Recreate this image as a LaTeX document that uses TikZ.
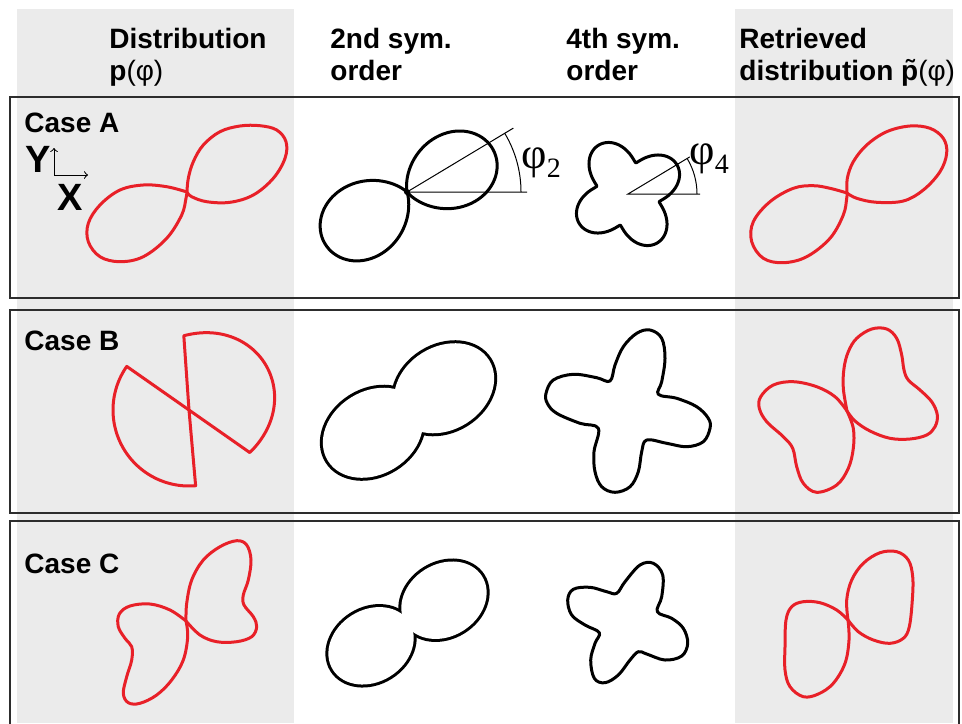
\documentclass[tikz,border=0pt]{standalone}
\usepackage{fontspec}
\setmainfont{Liberation Sans}
\newfontfamily\grkfont{Liberation Serif}
\definecolor{pred}{RGB}{232,32,40}
\definecolor{colgrey}{RGB}{235,235,235}
\definecolor{boxgrey}{RGB}{45,45,45}
\newcommand{\phisub}[1]{\raisebox{-4.5pt}{\fontsize{14}{14}\selectfont #1}}
\tikzset{
  redcurve/.style={draw=pred, line width=1.5pt, line join=round},
  blackcurve/.style={draw=black, line width=1.5pt, line join=round},
  lobeedge/.style={draw=black, line width=3pt},
  angleline/.style={draw=black, line width=0.5pt},
  casebox/.style={draw=boxgrey, line width=1pt},
  head/.style={font=\bfseries\fontsize{14}{16}\selectfont, anchor=base west, inner sep=0pt},
  axlab/.style={font=\bfseries\fontsize{19}{19}\selectfont, anchor=base west, inner sep=0pt},
  philab/.style={font=\grkfont\fontsize{22}{22}\selectfont, anchor=base west, inner sep=0pt}
}

\begin{document}
\begin{tikzpicture}[x=0.5pt, y=-0.5pt]
    \useasboundingbox (0,0) rectangle (962,723);
    \foreach \xa/\xb in {17/294, 735/953} {
      \fill[colgrey] (\xa,9) rectangle (\xb,723);
    }
    \foreach \ya/\yb in {97/298, 310/513, 521/780} {
      \draw[casebox] (10,\ya) rectangle (959,\yb);
    }

    \node[head] (headDist) at (109,48) {Distribution};
    \node[head] (headDistB) at (109,80) {p{\mdseries(φ)}};
    \node[head] (headSec) at (330,48) {2nd sym.};
    \node[head] (headSecB) at (330,80) {order};
    \node[head] (headFour) at (566,48) {4th sym.};
    \node[head] (headFourB) at (566,80) {order};
    \node[head] (headRet) at (739,48) {Retrieved};
    \node[head] (headRetB) at (739,80) {distribution p̃{\mdseries(φ)}};

    \node[head] (caseA) at (24,132) {Case A};
    \node[head] (caseB) at (24,350) {Case B};
    \node[head] (caseC) at (24,573) {Case C};

    \node[axlab] (ylab) at (25,172) {Y};
    \node[axlab] (xlab) at (57,210) {X};
    \coordinate (axo) at (54,175);
    \coordinate (axy) at (54,148);
    \coordinate (axx) at (88,175);
    \draw[angleline, ->] (axo) -- (axy);
    \draw[angleline, ->] (axo) -- (axx);

    % case A
    \draw[redcurve] plot[smooth, tension=0.6] coordinates {
      (187,192) (188.3,178.3) (193.3,161.7) (203.3,145) (220,131.7) (240,126) (260,125.7) (276.7,130)
      (286,141.7) (285,158.3) (273.3,178.3) (253.3,195) (230,202.3) (206.7,201.7) (191.7,196.7) (187,192)} -- cycle;
    \draw[redcurve] plot[smooth, tension=0.6] coordinates {
      (187,192) (166.7,186.7) (143.3,185) (120,190) (100,205) (88.3,223.3) (88.3,241.7) (100,256.7)
      (120,261.7) (143.3,256.7) (166.7,238.3) (181.7,215) (186,198.3) (187,192)} -- cycle;
    \begin{scope}[shift={(407,192)}, yscale=-1]
      \draw[blackcurve] (0,0) -- plot[domain=-50:100, samples=76] (\x:{96*max(cos(1.2*(\x-25)),0.001)^1.3}) -- cycle;
      \draw[blackcurve] (0,0) -- plot[domain=138:288, samples=76] (\x:{97*max(cos(1.2*(\x-213)),0.001)^1.3}) -- cycle;
      \fill (0,0) circle (3);
      \coordinate (ctwo) at (0,0);
      \coordinate (ctwoh) at (0:120);
      \coordinate (ctwor) at (31:124);
      \draw[angleline] (ctwoh) -- (ctwo) -- (ctwor);
      \draw[angleline] (0:114) arc[start angle=0, end angle=31, radius=114];
    \end{scope}
    \node[philab] (phitwo) at (521,168) {φ\phisub{2}};
    \begin{scope}[shift={(628,194)}, yscale=-1]
      \draw[blackcurve] plot[domain=0:360, samples=241] (\x:{32+25*max(0.5+0.5*cos(4*(\x-31)),0.0001)^0.6}) -- cycle;
      \coordinate (cfour) at (0,0);
      \coordinate (cfourh) at (0:72);
      \coordinate (cfourr) at (31:72);
      \draw[angleline] (cfourh) -- (cfour) -- (cfourr);
      \draw[angleline] (0:69) arc[start angle=0, end angle=31, radius=69];
    \end{scope}
    \node[philab] (phifour) at (689,164) {φ\phisub{4}};
    \draw[redcurve] plot[smooth, tension=0.6] coordinates {
      (847,193) (847.3,178.3) (853.3,161.7) (866.7,145) (886.7,131.7) (910,126) (930,128.3) (943.3,138.3)
      (946.7,153.3) (940,171.7) (923.3,190) (903.3,201) (876.7,202.3) (856.7,198.3) (847,193)} -- cycle;
    \draw[redcurve] plot[smooth, tension=0.6] coordinates {
      (847,193) (830,188.3) (813.3,185.7) (793.3,188.3) (770,201.7) (753.3,221.7) (751.7,241.7) (763.3,258.3)
      (783.3,262.7) (806.7,256.7) (830,238.3) (843.3,215) (846.7,198.3) (847,193)} -- cycle;

    % case B
    \begin{scope}[shift={(189,410)}, yscale=-1]
      \draw[redcurve] (0,0) -- plot[domain=-35:94, samples=66] (\x:{80+9*cos(2*(\x-30))}) -- cycle;
      \draw[redcurve] (0,0) -- plot[domain=145:275, samples=66] (\x:76) -- cycle;
    \end{scope}
    \begin{scope}[shift={(408.5,410.5)}, rotate=32]
      \foreach \s in {-42,42} {
        \draw[lobeedge] (\s,0) ellipse (53 and 41.5);
      }
      \foreach \s in {-42,42} {
        \fill[white] (\s,0) ellipse (53 and 41.5);
      }
    \end{scope}
    \draw[blackcurve] plot[smooth cycle, tension=0.6] coordinates {
      (546,393.3) (553.3,380) (573.3,374.3) (596.7,377.7) (610,381)
      (615,365) (623.3,346.7) (636.7,333.3) (650,330) (661.7,338.3) (665,358.3) (661.7,381.7) (658.3,394.3)
      (676.7,398.3) (696.7,406.7) (708.3,418.3) (710,428.3) (703.3,441.7) (686.7,446.7) (666.7,443.3) (646.7,440)
      (641.7,451.7) (638.3,471.7) (630,486.7) (615,492.3) (601.7,486.7) (595,471.7) (594,451.7) (598.3,428.3)
      (580,423.3) (556.7,413.3) (547.3,403.3)};
    \draw[redcurve] plot[smooth, tension=0.6] coordinates {
      (847,411) (843.3,388.3) (844,368.3) (848.3,351.7) (856.7,338.3) (871.7,329) (886.7,329) (896.7,338.3)
      (901.7,355) (904,370) (908.3,380) (920,390) (931.7,401.7) (937.3,415) (935,426.7) (926.7,435)
      (910,439) (890,438.3) (870,431) (855,421) (847,411)} -- cycle;
    \draw[redcurve] plot[smooth, tension=0.6] coordinates {
      (847,411) (835,396.7) (816.7,386.7) (793.3,381.7) (773.3,385) (760.7,396.7) (759.3,408.3) (766.7,421.7)
      (783.3,436.7) (792.7,448.3) (796.7,466.7) (803.3,483.3) (816.7,492.3) (836.7,485) (848.3,468.3)
      (853.3,448.3) (853.3,428.3) (847,411)} -- cycle;

    % case C
    \draw[redcurve] plot[smooth, tension=0.6] coordinates {
      (186,621) (186.7,603.3) (191.7,580) (203.3,560) (220,546.7) (236.7,540.7) (246.7,545) (251,560)
      (248.3,580) (243.3,595) (244,605) (253.3,616.7) (256.7,626.7) (251.7,636.7) (236.7,641.7)
      (216.7,641.7) (200,635) (186,621)} -- cycle;
    \draw[redcurve] plot[smooth, tension=0.6] coordinates {
      (186,621) (170,610) (150,604) (130,606) (119.3,614) (118.3,626.7) (125,638.3) (131.7,646.7)
      (131.7,660) (126.7,676.7) (123.3,693.3) (128.3,702.7) (140,703.3) (156.7,695) (171.7,680)
      (183.3,660) (187.7,636.7) (186,621)} -- cycle;
    \begin{scope}[shift={(407.5,623)}, rotate=32]
      \foreach \s in {-43,43} {
        \draw[lobeedge] (\s,0) ellipse (45 and 36);
      }
      \foreach \s in {-43,43} {
        \fill[white] (\s,0) ellipse (45 and 36);
      }
    \end{scope}
    \draw[blackcurve] plot[smooth cycle, tension=0.6] coordinates {
      (616.7,593.3) (625,581.7) (640,565) (653.3,563.3) (662.7,575) (661.7,596.7) (657.3,611.7)
      (671.7,618.3) (683.3,628.3) (687.7,643.3) (681.7,656) (665,660) (646.7,654) (638.3,651.7)
      (630,660) (618.3,675) (605,682.7) (594.3,678.3) (590.7,660) (595,643.3) (599.3,632.7)
      (585,625) (571.7,615) (567.7,600) (573.3,589.3) (590,587.3) (606.7,591.7)};
    \draw[redcurve] plot[smooth, tension=0.6] coordinates {
      (848,620) (846.7,600) (851.7,580) (863.3,563.3) (880,552.7) (896.7,551.7) (908.3,560) (912.7,576.7)
      (912.3,600) (909.3,626.7) (903.3,638.3) (890,643.3) (873.3,640) (858.3,631.7) (848,620)} -- cycle;
    \draw[redcurve] plot[smooth, tension=0.6] coordinates {
      (848,620) (836.7,610) (820,602.7) (803.3,601.7) (791.7,606.7) (786,620) (785,646.7) (785,670)
      (790,686.7) (803.3,696.7) (818.3,694) (833.3,683.3) (845,663.3) (849,640) (848,620)} -- cycle;
  \end{tikzpicture}
\end{document}
